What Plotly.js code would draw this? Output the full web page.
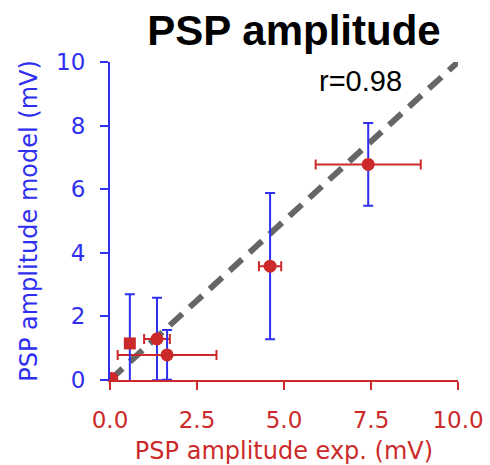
<!DOCTYPE html>
<html><head><meta charset="utf-8">
<script src="https://cdn.plot.ly/plotly-3.0.1.min.js"></script>
<style>html,body{margin:0;padding:0;background:#fff}</style>
</head><body>
<div id="chart" style="width:490px;height:465px"></div>
<script>
// data
const expCircle = [0.05, 1.35, 1.64, 4.6, 7.42];
const modelCircle = [0.05, 1.29, 0.79, 3.58, 6.78];
const expErrCircle = [0, 0.37, 1.42, 0.32, 1.51];
const modelErrCircle = [0, 1.3, 0.78, 2.3, 1.3];
const expSquare = [0.57];
const modelSquare = [1.15];
const modelErrSquare = [1.55];
const identity = [0, 10];
const corrLabel = "r=0.98";

const RED = "#cc2a2a", BLUE = "#2f2ff0";

const traces = [
  {x: identity, y: identity, mode: "lines", type: "scatter",
   line: {color: "#666666", width: 6, dash: "17px,10px"}, hoverinfo: "skip"},
  {x: expCircle, y: modelCircle, mode: "markers", type: "scatter",
   marker: {color: RED, size: 13, symbol: "circle"},
   error_x: {type: "data", array: expErrCircle, color: RED, thickness: 2, width: 5},
   error_y: {type: "data", array: modelErrCircle, color: BLUE, thickness: 2, width: 5}},
  {x: expSquare, y: modelSquare, mode: "markers", type: "scatter",
   marker: {color: RED, size: 12, symbol: "square"},
   error_y: {type: "data", array: modelErrSquare, color: BLUE, thickness: 2, width: 5}}
];

const layout = {
  width: 490, height: 465,
  margin: {l: 110, r: 32, t: 62, b: 85},
  showlegend: false,
  paper_bgcolor: "#fff", plot_bgcolor: "#fff",
  title: {text: "<b>PSP amplitude</b>", font: {family: "Liberation Sans, Arial", size: 42, color: "#000"},
          x: 0.6, xanchor: "center", y: 0.935, yanchor: "middle"},
  xaxis: {range: [0, 10], tickvals: [0, 2.5, 5, 7.5, 10], ticktext: ["0.0", "2.5", "5.0", "7.5", "10.0"],
          showgrid: false, zeroline: false, showline: true, linecolor: RED, linewidth: 2,
          ticks: "outside", ticklen: 8, tickwidth: 2, tickcolor: RED,
          tickfont: {family: "DejaVu Sans", size: 23, color: RED}, ticklabelstandoff: 10,
          title: {text: "PSP amplitude exp. (mV)", font: {family: "DejaVu Sans", size: 24, color: RED}, standoff: 12}},
  yaxis: {range: [0, 10], tickvals: [0, 2, 4, 6, 8, 10],
          showgrid: false, zeroline: false, showline: true, linecolor: BLUE, linewidth: 2,
          ticks: "outside", ticklen: 8, tickwidth: 2, tickcolor: BLUE,
          tickfont: {family: "DejaVu Sans", size: 23, color: BLUE}, ticklabelstandoff: 10,
          title: {text: "PSP amplitude model (mV)", font: {family: "DejaVu Sans", size: 24, color: BLUE}, standoff: 12}},
  annotations: [{x: 7.2, y: 9.4, xref: "x", yref: "y", text: corrLabel, showarrow: false,
                 font: {family: "Liberation Sans, Arial", size: 29, color: "#000"}}]
};

Plotly.newPlot("chart", traces, layout, {displayModeBar: false, staticPlot: true});
</script>
</body></html>
